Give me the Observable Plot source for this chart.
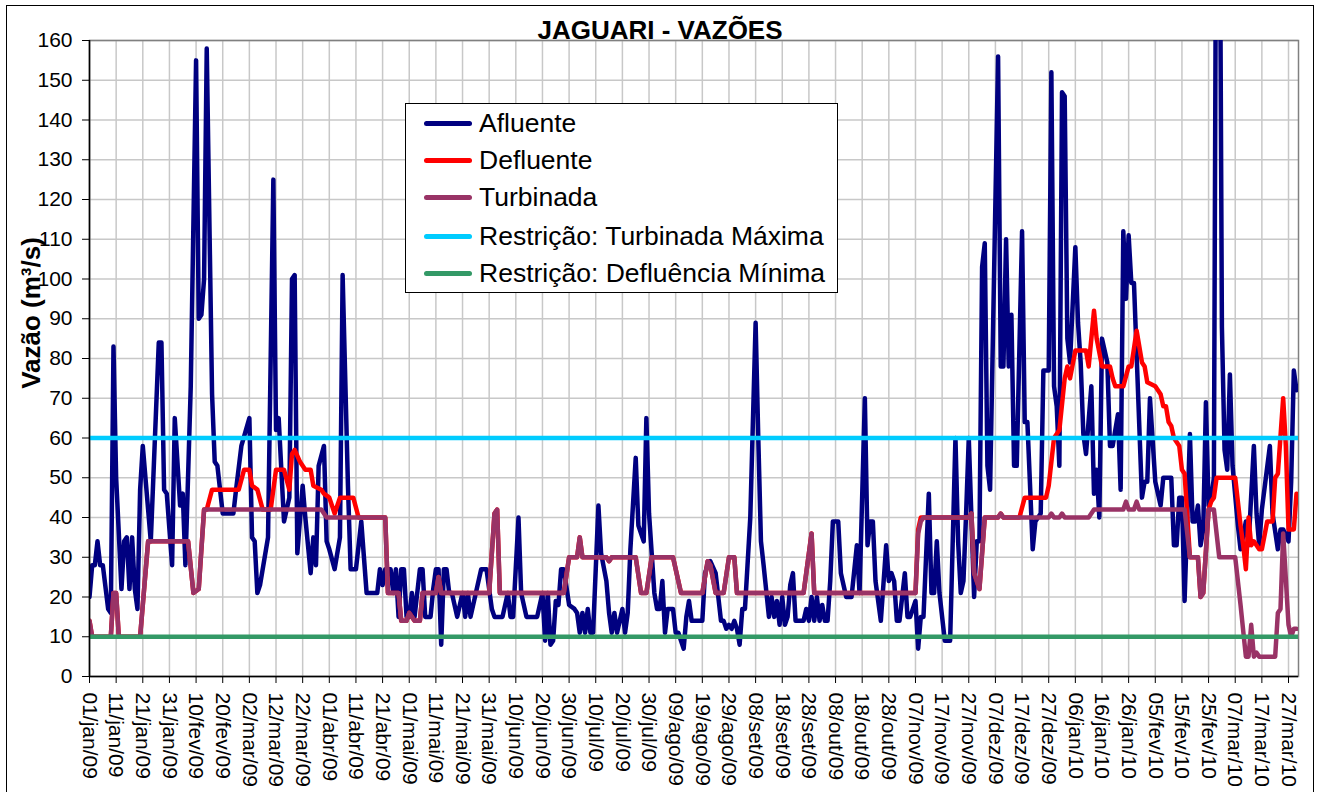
<!DOCTYPE html>
<html><head><meta charset="utf-8">
<script src="https://cdn.jsdelivr.net/npm/d3@7"></script>
<script src="https://cdn.jsdelivr.net/npm/@observablehq/plot@0.6"></script>
<style>
html,body{margin:0;padding:0;background:#fff;}
body{font-family:"Liberation Sans",Arial,sans-serif;color:#000;}
#wrap{position:relative;width:1320px;height:792px;overflow:hidden;background:#fff;}
#frame{position:absolute;left:6px;top:5px;width:1306px;height:830px;border:1.5px solid #000;}
#title{position:absolute;left:0;top:17px;width:1320px;text-align:center;font-weight:bold;font-size:26px;line-height:26px;white-space:nowrap;}
#chart{position:absolute;left:0;top:0;}
#ytitle{position:absolute;left:31px;top:313px;transform:translate(-50%,-50%) rotate(-90deg);font-weight:bold;font-size:26px;white-space:nowrap;}
#legend{position:absolute;left:405px;top:103px;width:431px;height:188px;border:1.2px solid #000;background:#fff;}
.li{position:absolute;left:0;height:30px;display:flex;align-items:center;}
.sw{width:48px;height:5px;border-radius:3px;margin-left:18px;margin-right:7px;}
.lt{font-size:26.5px;white-space:nowrap;}
</style>
</head><body>
<div id="wrap">
  <div id="frame"></div>
  <div id="title">JAGUARI - VAZÕES</div>
  <div id="chart"></div>
  <div id="ytitle">Vazão (m³/s)</div>
  <div id="legend"></div>
</div>
<script>
// ---- data (day offset from 01/jan/2009, value in m³/s) ----
const tickLabels = ["01/jan/09","11/jan/09","21/jan/09","31/jan/09","10/fev/09","20/fev/09","02/mar/09","12/mar/09","22/mar/09","01/abr/09","11/abr/09","21/abr/09","01/mai/09","11/mai/09","21/mai/09","31/mai/09","10/jun/09","20/jun/09","30/jun/09","10/jul/09","20/jul/09","30/jul/09","09/ago/09","19/ago/09","29/ago/09","08/set/09","18/set/09","28/set/09","08/out/09","18/out/09","28/out/09","07/nov/09","17/nov/09","27/nov/09","07/dez/09","17/dez/09","27/dez/09","06/jan/10","16/jan/10","26/jan/10","05/fev/10","15/fev/10","25/fev/10","07/mar/10","17/mar/10","27/mar/10"];
const yTicks = [0,10,20,30,40,50,60,70,80,90,100,110,120,130,140,150,160];
const seriesNames = ["Afluente","Defluente","Turbinada","Restrição: Turbinada Máxima","Restrição: Defluência Mínima"];

const afluente = [
[0,20],[1,28],[2,28],[3,34],[4,28],[5,28],[7,17],[8,16],[9,83],[10,50],[12,22],[13,34],[14,35],[15,22],[16,35],[17,22],[18,17],[19,47],[20,58],[23,34],[26,84],[27,84],[28,47],[29,46],[31,28],[32,65],[34,43],[35,46],[36,28],[38,73],[40,155],[41,90],[42,91],[43,100],[44,158],[46,71],[47,54],[48,53],[50,41],[54,41],[55,47],[57,58],[60,65],[61,35],[62,34],[63,21],[64,23],[67,35],[69,125],[70,62],[71,65],[73,39],[75,45],[76,100],[77,101],[78,31],[80,48],[81,40],[83,26],[84,35],[85,28],[86,53],[88,58],[89,34],[90,32],[92,27],[94,35],[95,101],[97,48],[98,27],[100,27],[102,39],[104,21],[108,21],[109,27],[110,23],[111,27],[113,27],[114,21],[115,27],[116,15],[117,27],[118,27],[119,15],[120,15],[121,21],[122,15],[124,27],[125,27],[126,15],[128,15],[129,22],[130,27],[131,27],[132,8],[133,27],[134,27],[135,21],[136,21],[138,15],[140,21],[141,15],[142,21],[143,15],[145,21],[147,27],[149,27],[151,17],[152,15],[155,15],[157,21],[158,15],[159,15],[161,40],[162,21],[164,15],[168,15],[170,21],[171,9],[172,21],[173,8],[174,9],[175,19],[176,18],[177,27],[178,27],[180,18],[182,17],[183,16],[184,11],[185,16],[186,11],[187,17],[188,11],[189,11],[191,43],[192,31],[194,24],[195,16],[196,11],[197,16],[198,11],[200,17],[201,11],[202,16],[203,32],[205,55],[206,38],[208,34],[209,65],[210,41],[211,31],[212,21],[213,17],[214,17],[215,24],[216,11],[217,17],[219,17],[220,11],[221,11],[223,7],[224,15],[225,19],[226,14],[230,14],[231,26],[232,28],[233,29],[235,26],[237,14],[238,14],[239,12],[240,13],[241,12],[242,14],[243,12],[244,8],[245,17],[246,17],[248,40],[250,89],[251,60],[252,34],[253,28],[255,15],[256,20],[257,15],[258,19],[259,13],[260,20],[261,13],[262,15],[263,23],[264,26],[265,14],[268,14],[269,17],[270,14],[271,20],[272,14],[273,20],[274,14],[275,18],[276,14],[277,14],[278,24],[279,39],[281,39],[282,26],[284,20],[286,20],[288,33],[289,21],[291,70],[292,33],[293,39],[294,39],[295,24],[297,14],[299,33],[300,24],[301,26],[302,24],[303,14],[304,14],[306,26],[307,15],[308,15],[310,19],[311,7],[312,15],[313,15],[315,46],[316,21],[317,21],[318,34],[319,21],[321,9],[323,9],[325,60],[326,34],[327,21],[328,24],[329,41],[330,60],[332,20],[333,34],[334,34],[335,103],[336,109],[337,53],[338,47],[341,156],[342,78],[343,78],[344,110],[345,78],[346,91],[347,53],[348,53],[350,112],[351,64],[352,64],[354,32],[355,39],[357,41],[358,77],[360,77],[361,152],[362,73],[363,68],[364,53],[365,147],[366,146],[367,85],[368,79],[370,108],[371,89],[372,79],[373,61],[374,56],[376,73],[377,46],[378,52],[379,40],[380,85],[382,79],[383,58],[384,58],[386,66],[387,47],[388,112],[389,95],[390,111],[391,99],[392,99],[395,45],[396,49],[397,49],[398,70],[400,49],[402,43],[403,50],[405,50],[406,50],[407,33],[408,33],[409,45],[410,45],[411,19],[413,61],[414,39],[415,39],[416,43],[417,33],[418,37],[419,69],[420,43],[421,45],[422,50],[423,230],[424,230],[425,88],[426,57],[427,52],[428,76],[429,53],[431,38],[432,32],[434,39],[435,33],[437,58],[438,41],[439,33],[440,42],[443,58],[444,41],[446,32],[447,37],[448,37],[450,34],[451,49],[452,77],[453,72]
];

const defluente = [
[0,14],[1,10],[8,10],[9,21],[10,21],[11,10],[19,10],[22,34],[37,34],[39,21],[41,22],[43,42],[44,42],[46,47],[56,47],[58,52],[60,52],[61,48],[63,47],[65,42],[68,42],[70,52],[73,52],[75,47],[76,56],[77,57],[79,54],[81,52],[83,52],[84,48],[87,47],[88,46],[90,45],[92,41],[94,45],[99,45],[101,40],[111,40],[112,21],[116,21],[117,14],[119,14],[120,16],[122,14],[124,14],[125,21],[130,21],[131,25],[132,21],[150,21],[152,41],[153,42],[154,21],[178,21],[180,30],[183,30],[184,35],[185,30],[194,30],[195,29],[196,30],[205,30],[207,21],[209,21],[211,30],[219,30],[222,21],[230,21],[232,29],[233,28],[235,21],[238,21],[240,30],[242,30],[243,21],[268,21],[269,26],[271,36],[272,21],[310,21],[311,37],[312,40],[313,40],[330,40],[331,41],[332,26],[334,22],[336,40],[341,40],[342,41],[343,40],[349,40],[351,45],[359,45],[360,48],[362,60],[364,62],[366,75],[367,78],[368,75],[370,82],[374,82],[375,78],[377,92],[378,85],[380,78],[383,78],[384,75],[385,73],[388,73],[390,78],[391,78],[393,87],[395,79],[396,78],[397,74],[400,73],[402,71],[403,68],[404,68],[405,64],[406,63],[407,60],[409,58],[410,52],[411,51],[413,30],[416,30],[417,20],[418,21],[420,42],[421,44],[422,45],[423,50],[430,50],[432,38],[433,33],[434,27],[435,40],[436,33],[437,34],[439,32],[440,32],[442,39],[444,39],[445,50],[446,51],[448,70],[449,58],[450,37],[452,37],[453,46]
];

const turbinada = [
[0,14],[1,10],[8,10],[9,21],[10,21],[11,10],[19,10],[22,34],[37,34],[39,21],[41,22],[43,42],[87,42],[89,40],[111,40],[112,21],[116,21],[117,14],[119,14],[120,16],[122,14],[124,14],[125,21],[130,21],[131,25],[132,21],[150,21],[152,41],[153,42],[154,21],[178,21],[180,30],[183,30],[184,35],[185,30],[194,30],[195,29],[196,30],[205,30],[207,21],[209,21],[211,30],[219,30],[222,21],[230,21],[232,29],[233,28],[235,21],[238,21],[240,30],[242,30],[243,21],[268,21],[269,26],[271,36],[272,21],[310,21],[311,36],[312,39],[313,40],[330,40],[331,41],[332,26],[334,22],[336,40],[341,40],[342,41],[343,40],[360,40],[361,41],[362,40],[364,40],[365,41],[366,40],[375,40],[377,42],[388,42],[389,44],[390,42],[392,42],[393,44],[394,42],[411,42],[413,30],[416,30],[417,20],[418,21],[420,42],[422,42],[424,30],[430,30],[432,18],[434,5],[435,5],[436,13],[437,5],[438,6],[439,5],[445,5],[446,16],[447,17],[448,36],[450,13],[451,10],[452,12],[453,12]
];

const turbinadaMaxima = [60];
const defluenciaMinima = [10];

// ---- styling ----
const colors = ["#000080","#FF0000","#993366","#00CCFF","#339966"];
const lw = 4.5;
const xTicks = tickLabels.map((_, i) => i * 10);

const chart = Plot.plot({
  width: 1320,
  height: 792,
  marginLeft: 89,
  marginRight: 22,
  marginTop: 40,
  marginBottom: 116,
  style: {fontFamily: "'Liberation Sans', Arial, sans-serif", fontSize: "21px", background: "transparent", color: "#000", overflow: "visible"},
  x: {type: "linear", domain: [0, 453.75]},
  y: {domain: [0, 160]},
  marks: [
    Plot.frame({fill: "white", stroke: "none"}),
    Plot.gridX(xTicks, {stroke: "#c8c8c8", strokeOpacity: 1, strokeWidth: 1.5}),
    Plot.gridY(yTicks, {stroke: "#c8c8c8", strokeOpacity: 1, strokeWidth: 1.5}),
    Plot.frame({stroke: "#808080", strokeWidth: 1.5}),
    Plot.line(afluente, {x: d => d[0], y: d => d[1], stroke: colors[0], strokeWidth: lw, strokeLinejoin: "round", strokeLinecap: "round", clip: true}),
    Plot.line(defluente, {x: d => d[0], y: d => d[1], stroke: colors[1], strokeWidth: lw, strokeLinejoin: "round", strokeLinecap: "round", clip: true}),
    Plot.line(turbinada, {x: d => d[0], y: d => d[1], stroke: colors[2], strokeWidth: lw, strokeLinejoin: "round", strokeLinecap: "round", clip: true}),
    Plot.ruleY(turbinadaMaxima, {stroke: colors[3], strokeWidth: lw}),
    Plot.ruleY(defluenciaMinima, {stroke: colors[4], strokeWidth: lw}),
    Plot.ruleX([0], {stroke: "#000", strokeWidth: 1.5}),
    Plot.ruleY([0], {stroke: "#000", strokeWidth: 1.5}),
    Plot.axisY({ticks: yTicks, tickSize: 7, tickPadding: 10, label: null, fontSize: 21}),
    Plot.axisX({ticks: xTicks, tickFormat: v => tickLabels[Math.round(v / 10)], tickRotate: 90, tickSize: 7, tickPadding: 9, label: null, fontSize: 21})
  ]
});
document.getElementById("chart").appendChild(chart);

// ---- legend ----
const legend = document.getElementById("legend");
const rowTops = [4, 41, 78, 117, 154];
seriesNames.forEach((name, i) => {
  const row = document.createElement("div");
  row.className = "li";
  row.style.top = rowTops[i] + "px";
  const sw = document.createElement("div");
  sw.className = "sw";
  sw.style.background = colors[i];
  const t = document.createElement("span");
  t.className = "lt";
  t.textContent = name;
  row.appendChild(sw);
  row.appendChild(t);
  legend.appendChild(row);
});
</script>
</body></html>
